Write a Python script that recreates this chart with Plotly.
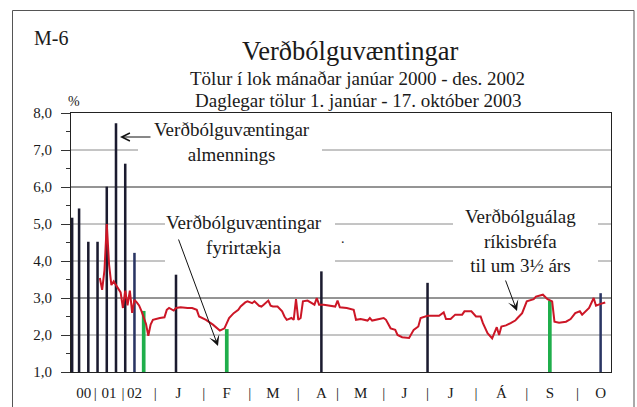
import plotly.graph_objects as go
import pandas as pd

# ---------------- data ----------------
# category axis: month-end values 2000-2002, then trading days 2003
months = [f"{y}-{m:02d}" for y in (2000, 2001, 2002) for m in range(1, 13)]
holidays_2003 = ["2003-01-01", "2003-04-17", "2003-04-18", "2003-04-21", "2003-04-24",
                 "2003-05-01", "2003-05-29", "2003-06-09", "2003-06-17", "2003-08-04"]
days_2003 = [d.strftime("%Y-%m-%d") for d in pd.bdate_range("2003-01-02", "2003-10-17")
             if d.strftime("%Y-%m-%d") not in holidays_2003]
categories = months + days_2003

# Verðbólguvæntingar almennings (public survey)
public_dates = ["2000-01", "2000-04", "2000-08", "2000-12", "2001-04", "2001-08", "2001-12",
                "2003-01-15", "2003-04-14", "2003-06-27"]
public_vals = [5.17, 5.42, 4.52, 4.52, 6.01, 7.72, 6.63, 3.63, 3.72, 3.41]
public2_dates = ["2002-04", "2003-10-13"]
public2_vals = [4.22, 3.13]

# Verðbólguvæntingar fyrirtækja (company survey)
company_dates = ["2002-08", "2003-02-14", "2003-09-11"]
company_vals = [2.65, 2.16, 2.93]

# Verðbólguálag ríkisbréfa (break-even inflation)
bond_dates = [
    "2001-01", "2001-02", "2001-03", "2001-04", "2001-05", "2001-06", "2001-07", "2001-08",
    "2001-09", "2001-10", "2001-11", "2001-12", "2002-01", "2002-02", "2002-03", "2002-04",
    "2002-05", "2002-06", "2002-07", "2002-08", "2002-09", "2002-10", "2002-11", "2002-12",
    "2003-01-02", "2003-01-03", "2003-01-06", "2003-01-08", "2003-01-09", "2003-01-10",
    "2003-01-14", "2003-01-15", "2003-01-17", "2003-01-22", "2003-01-24", "2003-01-28",
    "2003-01-29", "2003-02-03", "2003-02-06", "2003-02-11", "2003-02-13", "2003-02-17",
    "2003-02-19", "2003-02-21", "2003-02-24", "2003-02-26", "2003-02-27", "2003-03-03",
    "2003-03-04", "2003-03-06", "2003-03-07", "2003-03-10", "2003-03-12", "2003-03-13",
    "2003-03-14", "2003-03-18", "2003-03-20", "2003-03-21", "2003-03-24", "2003-03-26",
    "2003-03-27", "2003-03-28", "2003-03-31", "2003-04-01", "2003-04-02", "2003-04-04",
    "2003-04-08", "2003-04-09", "2003-04-10", "2003-04-11", "2003-04-15", "2003-04-23",
    "2003-04-28", "2003-04-29", "2003-04-30", "2003-05-06", "2003-05-09", "2003-05-12",
    "2003-05-14", "2003-05-19", "2003-05-20", "2003-05-21", "2003-05-23", "2003-05-28",
    "2003-05-30", "2003-06-03", "2003-06-05", "2003-06-06", "2003-06-11", "2003-06-16",
    "2003-06-19", "2003-06-23", "2003-06-24", "2003-06-27", "2003-07-01", "2003-07-04",
    "2003-07-08", "2003-07-09", "2003-07-11", "2003-07-15", "2003-07-18", "2003-07-21",
    "2003-07-24", "2003-07-28", "2003-07-30", "2003-07-31", "2003-08-05", "2003-08-07",
    "2003-08-11", "2003-08-12", "2003-08-13", "2003-08-15", "2003-08-19", "2003-08-21",
    "2003-08-22", "2003-08-26", "2003-08-28", "2003-09-02", "2003-09-03", "2003-09-08",
    "2003-09-10", "2003-09-12", "2003-09-15", "2003-09-17", "2003-09-22", "2003-09-24",
    "2003-09-26", "2003-09-30", "2003-10-01", "2003-10-03", "2003-10-06", "2003-10-08",
    "2003-10-09", "2003-10-13", "2003-10-15"]
bond_vals = [
    3.54, 3.22, 3.75, 5.00, 3.90, 3.35, 3.45, 3.36,
    3.25, 3.15, 2.73, 3.20, 2.80, 3.20, 2.60, 2.95,
    2.88, 2.80, 2.65, 2.50, 2.30, 1.98, 2.28, 2.41,
    2.43, 2.46, 2.46, 2.48, 2.68, 2.73,
    2.66, 2.73, 2.75, 2.73, 2.73, 2.68,
    2.50, 2.41, 2.28, 2.12, 2.18, 2.46,
    2.59, 2.68, 2.77, 2.88, 2.91, 2.86,
    2.91, 2.79, 2.77, 2.82, 2.93, 2.79,
    2.77, 2.77, 2.64, 2.50, 2.41, 2.46,
    2.41, 2.97, 2.41, 2.46, 2.91, 2.93,
    2.86, 2.82, 3.00, 2.82, 2.82, 2.79,
    2.77, 2.93, 2.75, 2.73, 2.68, 2.41,
    2.43, 2.39, 2.46, 2.39, 2.41, 2.46,
    2.41, 2.18, 2.14, 2.00, 1.94, 1.92,
    2.14, 2.23, 2.46, 2.52, 2.52, 2.52,
    2.61, 2.43, 2.43, 2.55, 2.55, 2.64,
    2.64, 2.50, 2.50, 2.32, 2.05, 1.91,
    2.21, 2.00, 2.23, 2.26, 2.32, 2.39,
    2.46, 2.59, 2.91, 2.97, 3.04, 3.09,
    2.97, 2.91, 2.36, 2.33, 2.36, 2.43,
    2.59, 2.64, 2.55, 2.68, 2.73, 3.00,
    2.79, 2.84, 2.88]

# x-axis tick labels
tick_cats = ["2000-06", "2000-11", "2001-05", "2001-11", "2002-04", "2003-01-02",
             "2003-01-16", "2003-01-31", "2003-02-14", "2003-02-28", "2003-03-14", "2003-03-31",
             "2003-04-14", "2003-04-29", "2003-05-14", "2003-05-28", "2003-06-12", "2003-06-27",
             "2003-07-11", "2003-07-28", "2003-08-13", "2003-08-28", "2003-09-11", "2003-09-29",
             "2003-10-13"]
tick_text = ["00", "|", "01", "|", "02", "|",
             "J", "|", "F", "|", "M", "|",
             "A", "|", "M", "|", "J", "|",
             "J", "|", "Á", "|", "S", "|",
             "O"]
y_gridlines = [2, 3, 4, 5, 6, 7]

# ---------------- layout helpers ----------------
W, H = 637, 407
L, R, T, B = 71, 26, 113, 35
PW, PH = W - L - R, H - T - B
FONT = "Liberation Serif"
INK = "#1a1a1a"


def px(x):
    return (x - L) / PW


def py(y):
    return (T + PH - y) / PH


fig = go.Figure()

bar_dark = "#1b1b2f"
bar_navy = "#2a3563"
green = "#1fae4b"
red = "#cc1626"

fig.add_trace(go.Bar(x=public_dates, y=public_vals, width=1.1, marker_color=bar_dark,
                     marker_line_width=0, name="Verðbólguvæntingar almennings"))
fig.add_trace(go.Bar(x=public2_dates, y=public2_vals, width=1.1, marker_color=bar_navy,
                     marker_line_width=0, name="Verðbólguvæntingar almennings"))
fig.add_trace(go.Bar(x=company_dates, y=company_vals, width=1.6, marker_color=green,
                     marker_line_width=0, name="Verðbólguvæntingar fyrirtækja"))
fig.add_trace(go.Scatter(x=bond_dates, y=bond_vals, mode="lines",
                         line=dict(color=red, width=2), name="Verðbólguálag ríkisbréfa"))

shapes = []
for v in y_gridlines:
    shapes.append(dict(type="line", xref="paper", yref="y", x0=0, x1=1, y0=v, y1=v,
                       line=dict(color="#2a2a2a" if v in (3, 6) else "#8a8a8a", width=1),
                       layer="below"))
# white boxes behind the annotation texts (interrupt the gridlines)
for (x0, x1, y0, y1) in [(138, 322, 120, 170), (165, 335, 208, 272), (453, 598, 203, 285)]:
    shapes.append(dict(type="rect", xref="paper", yref="paper", x0=px(x0), x1=px(x1),
                       y0=py(y1), y1=py(y0), fillcolor="white", line=dict(width=0),
                       layer="below"))
# outer frame
shapes.append(dict(type="rect", xref="paper", yref="paper", x0=px(12.5), x1=px(634),
                   y0=py(430), y1=py(10.5), line=dict(color="#555555", width=1),
                   fillcolor="rgba(0,0,0,0)", layer="above"))

ann = []


def text(s, x, y, size, xanchor="center"):
    ann.append(dict(text=s, x=px(x), y=py(y), xref="paper", yref="paper", showarrow=False,
                    xanchor=xanchor, yanchor="middle", font=dict(family=FONT, size=size, color=INK)))


text("M-6", 51, 38, 20)
text("Verðbólguvæntingar", 350, 51, 26.5)
text("Tölur í lok mánaðar janúar 2000 - des. 2002", 357, 78, 19)
text("Daglegar tölur 1. janúar - 17. október 2003", 358, 100, 19)
text("%", 74, 101, 14)
text("Verðbólguvæntingar<br>almennings", 232, 142, 19)
text("Verðbólguvæntingar<br>fyrirtækja", 244, 235, 19)
text("Verðbólguálag<br>ríkisbréfa<br>til um 3½ árs", 520, 241, 19)
text(".", 343, 238, 14)


def arrow(tip, tail, head, size):
    ann.append(dict(text="", x=px(tip[0]), y=py(tip[1]), xref="paper", yref="paper",
                    ax=tail[0] - tip[0], ay=tail[1] - tip[1], showarrow=True,
                    arrowhead=head, arrowsize=size, arrowwidth=1, arrowcolor="#111111",
                    standoff=0, startstandoff=0))


arrow((120, 137), (152, 137), 5, 1.6)
arrow((218, 346), (178, 238), 3, 1.8)
arrow((517, 311), (505, 279), 3, 1.8)

fig.update_layout(
    width=W, height=H, autosize=False,
    margin=dict(l=L, r=R, t=T, b=B, pad=0, autoexpand=False),
    paper_bgcolor="white", plot_bgcolor="white",
    showlegend=False, barmode="overlay", separators=", ",
    shapes=shapes, annotations=ann,
    font=dict(family=FONT, size=15, color=INK),
)
fig.update_xaxes(type="category", categoryorder="array", categoryarray=categories,
                 range=[-0.5, len(categories) - 0.5], showgrid=False, zeroline=False,
                 showline=True, linecolor="#222222", linewidth=1, mirror=True,
                 ticks="", tickmode="array", tickvals=tick_cats, ticktext=tick_text,
                 tickangle=0, ticklabelstandoff=7, automargin=False,
                 tickfont=dict(family=FONT, size=15, color=INK))
fig.update_yaxes(range=[1, 8], dtick=1, tick0=1, tickformat=".1f", showgrid=False,
                 zeroline=False, showline=True, linecolor="#222222", linewidth=1, mirror=True,
                 ticks="outside", ticklen=9, tickcolor="#333333", ticklabelstandoff=6,
                 automargin=False,
                 minor=dict(dtick=0.5, ticks="outside", ticklen=4, tickcolor="#333333",
                            showgrid=False),
                 tickfont=dict(family=FONT, size=15, color=INK))

fig.write_html("out.html", config={"displayModeBar": False},
               post_script="document.body.style.margin='0';")
